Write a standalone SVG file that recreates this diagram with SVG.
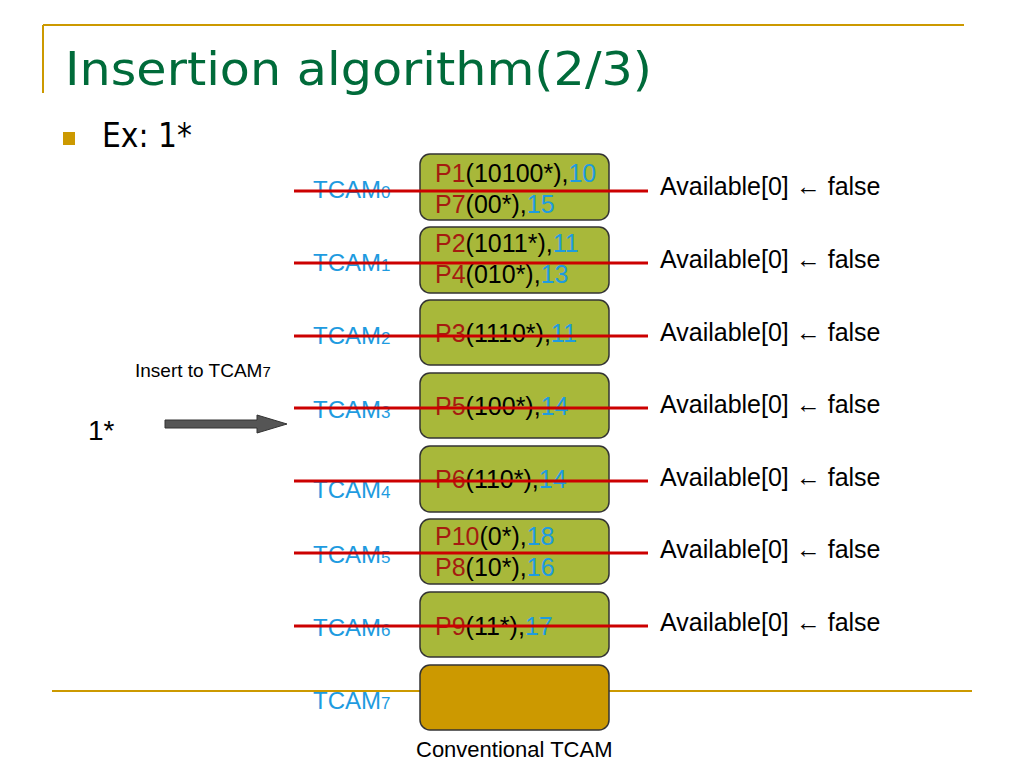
<svg xmlns="http://www.w3.org/2000/svg" width="1024" height="768" viewBox="0 0 1024 768">
<style>
.frame{stroke:#CC9900;stroke-width:2;fill:none}
.box{fill:#A8B83A;stroke:#333333;stroke-width:1.5}
.box7{fill:#CC9900;stroke:#333333;stroke-width:1.5}
.t{font-family:"Liberation Sans",Arial,sans-serif}
.bt{font-family:"Liberation Sans",Arial,sans-serif;font-size:25px;fill:#000}
.p{fill:#A51C10}
.n{fill:#1E9BE0}
.lab{font-family:"Liberation Sans",Arial,sans-serif;font-size:24px;fill:#1E9BE0}
.sub{font-size:17px}
.av{font-family:"Liberation Sans",Arial,sans-serif;font-size:25px;fill:#000}
.strike{stroke:#CC0000;stroke-width:3}
</style>
<rect width="1024" height="768" fill="#ffffff"/>
<g id="frame">
<line class="frame" x1="43" y1="25" x2="964" y2="25"/>
<line class="frame" x1="43" y1="25" x2="43" y2="93"/>
<line class="frame" x1="52" y1="691" x2="972" y2="691"/>
<text x="65" y="85" font-family="'DejaVu Sans',sans-serif" font-size="47" fill="#006B3A" textLength="587" lengthAdjust="spacingAndGlyphs">Insertion algorithm(2/3)</text>
<rect x="63" y="132" width="12" height="13" fill="#CC9900"/>
<text x="102" y="147" font-family="'DejaVu Sans',sans-serif" font-size="33" fill="#000" textLength="90" lengthAdjust="spacingAndGlyphs">Ex: 1*</text>
</g>
<g id="insert">
<text class="t" x="135" y="377" font-size="19" fill="#000">Insert to TCAM<tspan font-size="15">7</tspan></text>
<text class="t" x="88" y="440" font-size="28" fill="#000">1*</text>
<polygon points="165,420 257,420 257,415 287,424 257,433 257,428 165,428" fill="#555555" stroke="#333333" stroke-width="1"/>
</g>
<g id="tcam0">
<rect class="box" x="420" y="154" width="189" height="66" rx="10"/>
<text class="bt" x="435" y="182"><tspan class="p">P1</tspan>(10100*),<tspan class="n">10</tspan></text>
<text class="bt" x="435" y="213"><tspan class="p">P7</tspan>(00*),<tspan class="n">15</tspan></text>
<text class="lab" x="313" y="198">TCAM<tspan class="sub">0</tspan></text>
<text class="av" x="660" y="195">Available[0] ← false</text>
</g>
<g id="tcam1">
<rect class="box" x="420" y="227" width="189" height="66" rx="10"/>
<text class="bt" x="435" y="252"><tspan class="p">P2</tspan>(1011*),<tspan class="n">11</tspan></text>
<text class="bt" x="435" y="283"><tspan class="p">P4</tspan>(010*),<tspan class="n">13</tspan></text>
<text class="lab" x="313" y="271">TCAM<tspan class="sub">1</tspan></text>
<text class="av" x="660" y="268">Available[0] ← false</text>
</g>
<g id="tcam2">
<rect class="box" x="420" y="300" width="189" height="65" rx="10"/>
<text class="bt" x="435" y="342"><tspan class="p">P3</tspan>(1110*),<tspan class="n">11</tspan></text>
<text class="lab" x="313" y="344">TCAM<tspan class="sub">2</tspan></text>
<text class="av" x="660" y="341">Available[0] ← false</text>
</g>
<g id="tcam3">
<rect class="box" x="420" y="373" width="189" height="65" rx="10"/>
<text class="bt" x="435" y="415"><tspan class="p">P5</tspan>(100*),<tspan class="n">14</tspan></text>
<text class="lab" x="313" y="418">TCAM<tspan class="sub">3</tspan></text>
<text class="av" x="660" y="413">Available[0] ← false</text>
</g>
<g id="tcam4">
<rect class="box" x="420" y="446" width="189" height="66" rx="10"/>
<text class="bt" x="435" y="488"><tspan class="p">P6</tspan>(110*),<tspan class="n">14</tspan></text>
<text class="lab" x="313" y="498">TCAM<tspan class="sub">4</tspan></text>
<text class="av" x="660" y="486">Available[0] ← false</text>
</g>
<g id="tcam5">
<rect class="box" x="420" y="519" width="189" height="65" rx="10"/>
<text class="bt" x="435" y="545"><tspan class="p">P10</tspan>(0*),<tspan class="n">18</tspan></text>
<text class="bt" x="435" y="576"><tspan class="p">P8</tspan>(10*),<tspan class="n">16</tspan></text>
<text class="lab" x="313" y="563">TCAM<tspan class="sub">5</tspan></text>
<text class="av" x="660" y="558">Available[0] ← false</text>
</g>
<g id="tcam6">
<rect class="box" x="420" y="592" width="189" height="65" rx="10"/>
<text class="bt" x="435" y="635"><tspan class="p">P9</tspan>(11*),<tspan class="n">17</tspan></text>
<text class="lab" x="313" y="636">TCAM<tspan class="sub">6</tspan></text>
<text class="av" x="660" y="631">Available[0] ← false</text>
</g>
<g id="tcam7">
<rect class="box7" x="420" y="665" width="189" height="65" rx="10"/>
<text class="lab" x="313" y="709">TCAM<tspan class="sub">7</tspan></text>
<text class="t" x="416" y="757" font-size="22" fill="#000">Conventional TCAM</text>
</g>
<g id="connectors">
<line class="strike" x1="294" y1="191" x2="648" y2="191"/>
<line class="strike" x1="294" y1="263" x2="648" y2="263"/>
<line class="strike" x1="294" y1="336" x2="648" y2="336"/>
<line class="strike" x1="294" y1="408" x2="648" y2="408"/>
<line class="strike" x1="294" y1="481" x2="648" y2="481"/>
<line class="strike" x1="294" y1="553" x2="648" y2="553"/>
<line class="strike" x1="294" y1="626" x2="648" y2="626"/>
</g>
</svg>
